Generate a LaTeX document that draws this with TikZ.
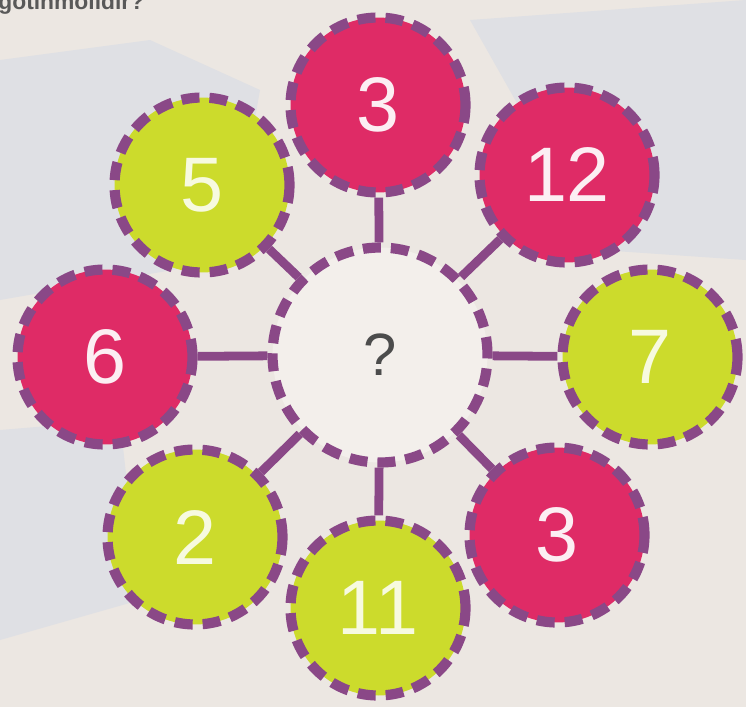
\documentclass[tikz,border=0pt]{standalone}
\usepackage{fontspec}
\setmainfont{Liberation Sans}
\usepackage{tikz}

\definecolor{fond}{HTML}{ECE7E2}
\definecolor{tache}{HTML}{DFE0E4}
\definecolor{rose}{HTML}{DF2B66}
\definecolor{citron}{HTML}{CCDB2C}
\definecolor{violet}{HTML}{8A4887}
\definecolor{centre}{HTML}{F3EFEB}

\tikzset{
  bulle/.style={circle, minimum size=3.5cm, draw=violet, line width=5.8pt,
    dash pattern=on 0.36cm off 0.2cm, font=\fontsize{44}{44}\selectfont},
  rosebulle/.style={bulle, fill=rose, text=white!92!rose},
  citronbulle/.style={bulle, fill=citron, text=white!85!citron},
  lien/.style={draw=violet, line width=5pt}
}

\begin{document}
\begin{tikzpicture}[x=0.02cm, y=-0.02cm]
% Fond
\fill[fond] (0,0) rectangle (746,707);
\useasboundingbox (0,0) rectangle (746,707);
\fill[tache] (0,60) -- (150,40) -- (260,90) -- (230,260) -- (0,300) -- cycle;
\fill[tache] (470,20) -- (746,0) -- (746,260) -- (600,250) -- cycle;
\fill[tache] (0,430) -- (120,420) -- (140,600) -- (0,640) -- cycle;
% Texte du haut
\node[anchor=base west, inner sep=0pt, text=black!65, font=\fontsize{13}{13}\selectfont\bfseries]
  (titre) at (-2,9) {gotinmolidir?};
% Cercle central
\node[bulle, minimum size=4.3cm, fill=centre, text=black!70,
  font=\fontsize{34}{34}\selectfont] (q) at (380,355) {?};
% Cercles autour
\node[rosebulle] (haut) at (378,105) {3};
\node[rosebulle] (douze) at (567,175) {12};
\node[citronbulle] (sept) at (650,357) {7};
\node[rosebulle] (basdroite) at (557,535) {3};
\node[citronbulle] (onze) at (378,608) {11};
\node[citronbulle] (deux) at (195,537) {2};
\node[rosebulle] (six) at (105,357) {6};
\node[citronbulle] (cinq) at (202,185) {5};
% Liens
\foreach \n in {haut,douze,sept,basdroite,onze,deux,six,cinq}
  \draw[lien] (q) -- (\n);
\end{tikzpicture}
\end{document}
